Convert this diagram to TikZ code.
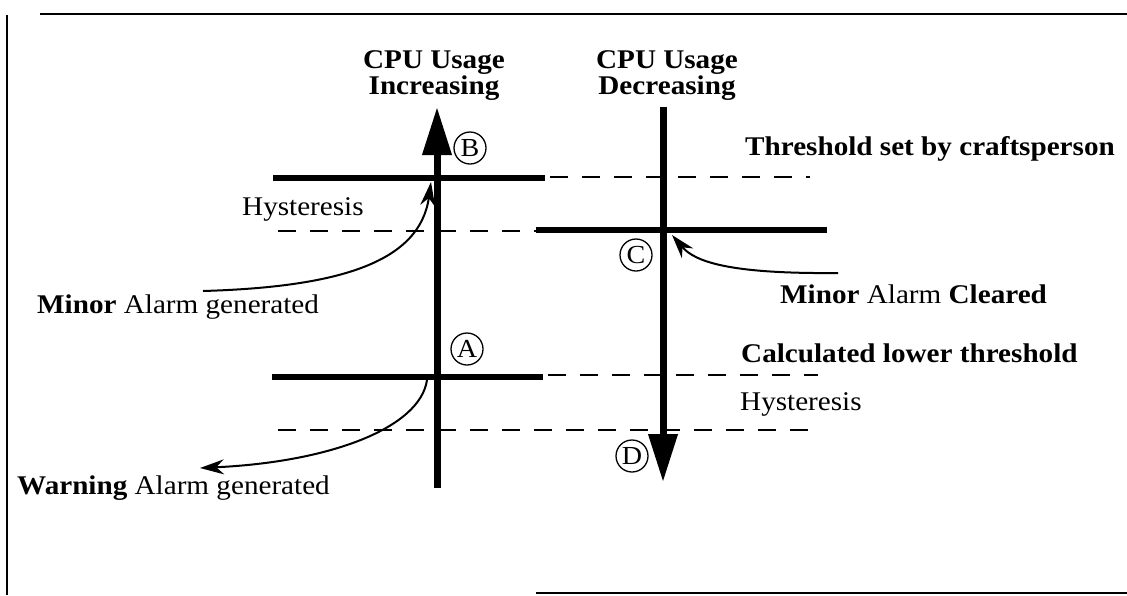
\documentclass[tikz,border=0pt]{standalone}
\usepackage{fontspec}
\setmainfont{Liberation Serif}[FakeStretch=1.08]
\usetikzlibrary{arrows.meta}
\begin{document}
\begin{tikzpicture}[x=1pt,y=-1pt,
  frameline/.style={line width=1.5pt},
  axis/.style={line width=7pt,-{Triangle[length=48pt,width=28pt]}},
  level/.style={line width=6pt},
  dashline/.style={line width=1.5pt,dash pattern=on 18pt off 14pt},
  callout/.style={line width=2pt,-{Stealth[length=24pt,width=15pt]}},
  lbl/.style={anchor=base west,inner sep=0pt,font=\fontsize{27}{27}\selectfont},
  ttl/.style={anchor=base,inner sep=0pt,font=\fontsize{27}{27}\selectfont\bfseries},
  letter/.style={circle,draw,line width=1.3pt,inner sep=0pt,minimum size=32pt,font=\fontsize{26}{26}\selectfont}]
\useasboundingbox (0,0) rectangle (1127,595);
% frame
\coordinate (fTL) at (40,14); \coordinate (fTR) at (1127,14);
\coordinate (fLT) at (7,15); \coordinate (fLB) at (7,595);
\coordinate (fBL) at (536,593); \coordinate (fBR) at (1127,593);
\draw[frameline] (fTL) -- (fTR);
\draw[frameline] (fLT) -- (fLB);
\draw[frameline] (fBL) -- (fBR);
% titles
\node[ttl] (t1a) at (434,68) {CPU Usage};
\node[ttl] (t1b) at (434,94) {Increasing};
\node[ttl] (t2a) at (667,68) {CPU Usage};
\node[ttl] (t2b) at (667,94) {Decreasing};
% dashed lines
\coordinate (d1a) at (550,177); \coordinate (d1b) at (810,177);
\coordinate (d2a) at (278,231); \coordinate (d2b) at (536,231);
\coordinate (d3a) at (548,375); \coordinate (d3b) at (818,375);
\coordinate (d4a) at (278,430); \coordinate (d4b) at (820,430);
\draw[dashline] (d1a) -- (d1b);
\draw[dashline] (d2a) -- (d2b);
\draw[dashline] (d3a) -- (d3b);
\draw[dashline] (d4a) -- (d4b);
% level lines
\coordinate (lBa) at (273,178); \coordinate (lBb) at (545,178);
\coordinate (lCa) at (536,230); \coordinate (lCb) at (827,230);
\coordinate (lAa) at (272,377); \coordinate (lAb) at (543,377);
\draw[level] (lBa) -- (lBb);
\draw[level] (lCa) -- (lCb);
\draw[level] (lAa) -- (lAb);
% axes
\coordinate (incBot) at (437,488); \coordinate (incTop) at (437,107);
\coordinate (decTop) at (663,107); \coordinate (decBot) at (663,482);
\draw[axis] (incBot) -- (incTop);
\draw[axis] (decTop) -- (decBot);
% circled letters
\node[letter] (B) at (470,148) {B};
\node[letter] (A) at (467,349) {A};
\node[letter] (C) at (636,255) {C};
\node[letter] (D) at (632,456) {D};
% labels
\node[lbl] (thr) at (745,155) {\bfseries Threshold set by craftsperson};
\node[lbl] (hys1) at (242,215) {Hysteresis};
\node[lbl] (mgen) at (37,313) {\textbf{Minor} Alarm generated};
\node[lbl] (mclr) at (780,303) {\textbf{Minor} Alarm \textbf{Cleared}};
\node[lbl] (calc) at (741,362) {\bfseries Calculated lower threshold};
\node[lbl] (hys2) at (740,410) {Hysteresis};
\node[lbl] (warn) at (17,494) {\textbf{Warning} Alarm generated};
% callouts
\coordinate (mgS) at (203,291); \coordinate (mgE) at (431,182);
\draw[callout] (mgS) .. controls (340,287) and (420,262) .. (mgE);
\coordinate (wS) at (427,380); \coordinate (wE) at (200,468);
\draw[callout] (wS) .. controls (420,428) and (330,462) .. (wE);
\coordinate (cS) at (838,273); \coordinate (cE) at (672,235);
\draw[callout] (cS) .. controls (730,274) and (695,262) .. (cE);
\end{tikzpicture}
\end{document}
